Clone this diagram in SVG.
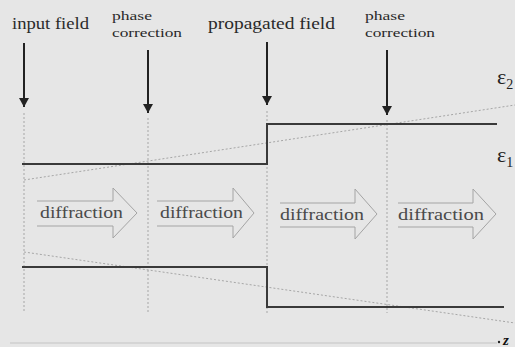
<svg xmlns="http://www.w3.org/2000/svg" width="515" height="347" viewBox="0 0 515 347">
<defs>
<style>
.lbl{font-family:"Liberation Serif","Times New Roman",serif;fill:#2a2a2a}
.big{font-size:16px}
.sm{font-size:13px}
.dif{font-family:"Liberation Serif","Times New Roman",serif;font-size:17px;fill:#4a4a4a}
.guide{stroke:#a6a6a6;stroke-width:1;stroke-dasharray:2 2;fill:none}
.step{stroke:#3a3a3a;stroke-width:2;fill:none}
.blk{stroke:#a4a4a4;stroke-width:1;fill:none}
.down{stroke:#222;stroke-width:2;fill:none}
.eps{font-family:"Liberation Serif","Times New Roman",serif;fill:#222}
</style>
<marker id="ah" markerUnits="userSpaceOnUse" markerWidth="10" markerHeight="10" refX="9" refY="5" orient="auto">
<path d="M0,0 L9,5 L0,10 z" fill="#222"/>
</marker>
</defs>
<rect width="515" height="347" fill="#e6e6e6"/>

<g id="guides">
<line class="guide" x1="24" y1="113" x2="24" y2="313"/>
<line class="guide" x1="148" y1="118" x2="148" y2="313"/>
<line class="guide" x1="267" y1="111" x2="267" y2="313"/>
<line class="guide" x1="387" y1="120" x2="387" y2="313"/>
<line class="guide" x1="24" y1="180" x2="515" y2="105"/>
<line class="guide" x1="24" y1="252" x2="515" y2="323"/>
</g>

<g id="profile">
<polyline class="step" points="22,164 267,164 267,124 497,124"/>
<polyline class="step" points="22,267 267,267 267,307 504,307"/>
</g>

<g id="connectors">
<line class="down" x1="24" y1="43" x2="24" y2="107" marker-end="url(#ah)"/>
<line class="down" x1="148" y1="50" x2="148" y2="113" marker-end="url(#ah)"/>
<line class="down" x1="267" y1="42" x2="267" y2="105" marker-end="url(#ah)"/>
<line class="down" x1="387" y1="50" x2="387" y2="115" marker-end="url(#ah)"/>
</g>

<g id="input-field">
<text class="lbl big" x="12" y="29" textLength="77" lengthAdjust="spacingAndGlyphs">input field</text>
</g>
<g id="phase-correction-1">
<text class="lbl sm" x="112" y="20" textLength="40" lengthAdjust="spacingAndGlyphs">phase</text>
<text class="lbl sm" x="112" y="37" textLength="70" lengthAdjust="spacingAndGlyphs">correction</text>
</g>
<g id="propagated-field">
<text class="lbl big" x="208" y="29" textLength="127" lengthAdjust="spacingAndGlyphs">propagated field</text>
</g>
<g id="phase-correction-2">
<text class="lbl sm" x="365" y="20" textLength="40" lengthAdjust="spacingAndGlyphs">phase</text>
<text class="lbl sm" x="365" y="37" textLength="70" lengthAdjust="spacingAndGlyphs">correction</text>
</g>

<g id="diffraction-1">
<path class="blk" d="M37,201 H113 V188 L137,213 L113,238 V226 H37"/>
<text class="dif" x="40" y="218" textLength="83" lengthAdjust="spacingAndGlyphs">diffraction</text>
</g>
<g id="diffraction-2">
<path class="blk" d="M157,201 H233 V188 L254,213 L233,238 V226 H157"/>
<text class="dif" x="160" y="218" textLength="83" lengthAdjust="spacingAndGlyphs">diffraction</text>
</g>
<g id="diffraction-3">
<path class="blk" d="M280,203 H355 V189 L377,214 L355,239 V227 H280"/>
<text class="dif" x="280" y="220" textLength="84" lengthAdjust="spacingAndGlyphs">diffraction</text>
</g>
<g id="diffraction-4">
<path class="blk" d="M398,203 H473 V189 L496,214 L473,239 V227 H398"/>
<text class="dif" x="398" y="220" textLength="86" lengthAdjust="spacingAndGlyphs">diffraction</text>
</g>

<g id="eps2">
<text class="eps" x="497" y="84" font-size="22">ε<tspan font-size="14" dy="5">2</tspan></text>
</g>
<g id="eps1">
<text class="eps" x="497" y="162" font-size="22">ε<tspan font-size="14" dy="5">1</tspan></text>
</g>

<g id="z-axis">
<line x1="10" y1="343" x2="497" y2="343" stroke="#c4c4c4" stroke-width="1"/>
<circle cx="499" cy="342" r="1.2" fill="#222"/>
<text x="503" y="345" font-family="Liberation Serif, serif" font-size="15" font-weight="bold" font-style="italic" fill="#111">z</text>
</g>
</svg>
